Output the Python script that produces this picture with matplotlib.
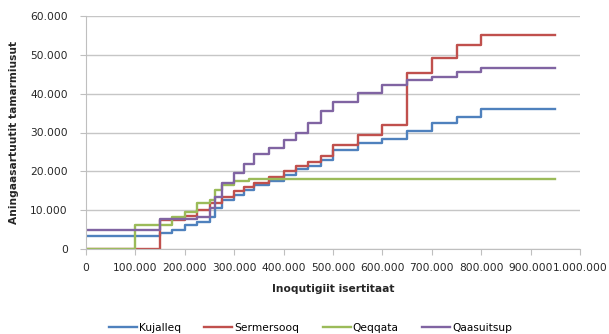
import numpy as np
import matplotlib.pyplot as plt
from matplotlib.ticker import FuncFormatter

# step breakpoints (income) and cumulative expenses for each municipality
kujalleq_x = [0, 150000, 175000, 200000, 225000, 250000, 262000, 275000, 300000, 320000,
              340000, 370000, 400000, 425000, 450000, 475000, 500000, 550000, 600000,
              650000, 700000, 750000, 800000, 950000]
kujalleq_y = [3400, 4000, 4900, 6200, 7000, 8300, 10500, 12600, 13900, 15200,
              16500, 17500, 19000, 20500, 21500, 23000, 25500, 27200, 28200,
              30300, 32400, 34100, 36000, 36000]

sermersooq_x = [0, 150000, 200000, 225000, 250000, 275000, 300000, 320000, 340000,
                370000, 400000, 425000, 450000, 475000, 500000, 550000, 600000,
                650000, 700000, 750000, 800000, 950000]
sermersooq_y = [0, 7500, 8500, 10000, 11800, 13500, 15000, 16000, 17000,
                18500, 20000, 21500, 22500, 24000, 26800, 29400, 31900,
                45200, 49100, 52500, 55100, 55100]

qeqqata_x = [0, 100000, 175000, 200000, 225000, 250000, 262000, 275000, 300000,
             330000, 950000]
qeqqata_y = [0, 6200, 8300, 9600, 11800, 12600, 15200, 16500, 17500,
             18000, 18000]

qaasuitsup_x = [0, 150000, 225000, 250000, 262000, 275000, 300000, 320000, 340000,
                370000, 400000, 425000, 450000, 475000, 500000, 550000, 600000,
                650000, 700000, 750000, 800000, 950000]
qaasuitsup_y = [5000, 7700, 8300, 10500, 13500, 16900, 19500, 22000, 24500,
                25900, 28000, 30000, 32500, 35500, 37800, 40100, 42200,
                43500, 44300, 45700, 46600, 46600]

series = [
    ("Kujalleq", kujalleq_x, kujalleq_y, "#4F81BD"),
    ("Sermersooq", sermersooq_x, sermersooq_y, "#C0504D"),
    ("Qeqqata", qeqqata_x, qeqqata_y, "#9BBB59"),
    ("Qaasuitsup", qaasuitsup_x, qaasuitsup_y, "#8064A2"),
]

plt.rcParams['font.family'] = ['DejaVu Sans']

fig = plt.figure(figsize=(6.09, 3.34), dpi=100)
ax = fig.add_axes([86/609, 85/334, 494/609, 233/334])

for name, xs, ys, col in series:
    ax.step(xs, ys, where='post', color=col, lw=1.7, label=name)

ax.set_xlim(0, 1000000)
ax.set_ylim(0, 60000)
ax.set_xticks(np.arange(0, 1000001, 100000))
ax.set_yticks(np.arange(0, 60001, 10000))

def dotted(v, pos):
    return f"{int(v):,}".replace(",", ".")

ax.xaxis.set_major_formatter(FuncFormatter(dotted))
ax.yaxis.set_major_formatter(FuncFormatter(dotted))

ax.grid(axis='y', color='#C6C6C6', lw=1)
ax.set_axisbelow(True)
for s in ['top', 'right']:
    ax.spines[s].set_visible(False)
for s in ['left', 'bottom']:
    ax.spines[s].set_color('#BFBFBF')
ax.tick_params(axis='both', colors='#BFBFBF', labelcolor='#262626', labelsize=7.7, length=4)
ax.tick_params(axis='y', pad=9)
ax.tick_params(axis='x', pad=6)

ax.set_xlabel("Inoqutigiit isertitaat", fontsize=7.7, fontweight='bold', color='#262626', labelpad=8)
ax.set_ylabel("Aningaasartuutit tamarmiusut", fontsize=7.7, fontweight='bold', color='#262626', labelpad=8)

fig.legend(loc='lower center', bbox_to_anchor=(0.51, -0.025), ncol=4, frameon=False,
           fontsize=7.7, handlelength=2.6, columnspacing=2.2, handletextpad=0.2)

plt.savefig("out.png", dpi=100)
